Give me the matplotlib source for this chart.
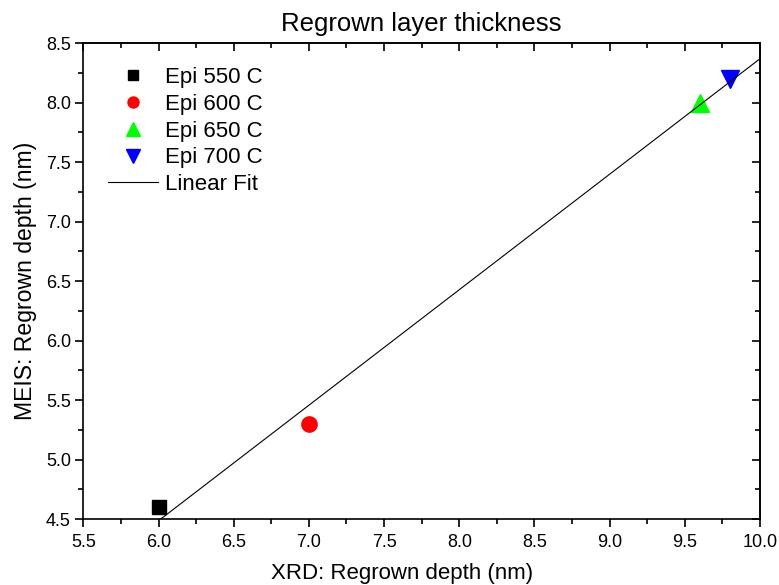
import numpy as np
import matplotlib
matplotlib.use("Agg")
import matplotlib.pyplot as plt
from matplotlib.ticker import MultipleLocator, FormatStrFormatter

plt.rcParams['font.family'] = ['Liberation Sans', 'DejaVu Sans']

# XRD vs MEIS regrown depth (nm) for each epitaxy temperature
labels = ["Epi 550 C", "Epi 600 C", "Epi 650 C", "Epi 700 C"]
xrd_depth = [6.0, 7.0, 9.6, 9.8]
meis_depth = [4.6, 5.3, 8.0, 8.2]
colors = ["#000000", "#ff0000", "#00ff00", "#0000ff"]
markers = ["s", "o", "^", "v"]
sizes = [9.5, 11, 13.5, 13.5]

fig = plt.figure(figsize=(7.79, 5.85), dpi=100)
ax = fig.add_axes([0.107, 0.1128, 0.8686, 0.8132])

for x, y, lab, c, m, s in zip(xrd_depth, meis_depth, labels, colors, markers, sizes):
    ax.plot([x], [y], linestyle="none", marker=m, color=c, markersize=s, label=lab)

# Least-squares linear fit through the four points
slope, intercept = np.polyfit(xrd_depth, meis_depth, 1)
fit_x = np.array([min(xrd_depth), 10.0])
ax.plot(fit_x, slope * fit_x + intercept, color="black", linewidth=0.8, label="Linear Fit")

ax.set_xlim(5.5, 10.0)
ax.set_ylim(4.5, 8.5)
for axis in (ax.xaxis, ax.yaxis):
    axis.set_major_locator(MultipleLocator(0.5))
    axis.set_minor_locator(MultipleLocator(0.25))
    axis.set_major_formatter(FormatStrFormatter('%.1f'))

ax.tick_params(which="both", direction="out", top=False, right=False, labelsize=13, width=1.2)
ax.tick_params(which="major", length=6)
ax.tick_params(which="minor", length=3.5)
ax.tick_params(axis="x", pad=5)
ax.tick_params(axis="y", pad=3)
# mirrored inward ticks on the top and right edges
secx = ax.secondary_xaxis("top")
secy = ax.secondary_yaxis("right")
for sec, axis in ((secx, secx.xaxis), (secy, secy.yaxis)):
    axis.set_major_locator(MultipleLocator(0.5))
    axis.set_minor_locator(MultipleLocator(0.25))
    sec.tick_params(which="both", direction="in", labeltop=False, labelright=False, width=1.2)
    sec.tick_params(which="major", length=6)
    sec.tick_params(which="minor", length=3.5)
    for sp in sec.spines.values():
        sp.set_linewidth(1.2)
for sp in ax.spines.values():
    sp.set_linewidth(1.2)

ax.set_xlabel("XRD: Regrown depth (nm)", fontsize=16)
ax.xaxis.set_label_coords(0.471, -0.092)
ax.set_ylabel("MEIS: Regrown depth (nm)", fontsize=16.6, labelpad=6)
ax.set_title("Regrown layer thickness", fontsize=18.5, pad=9)

ax.legend(loc="upper left", frameon=False, fontsize=16, handlelength=2.25,
          handletextpad=0.3, labelspacing=0.26, borderaxespad=0, borderpad=0,
          markerscale=0.72, bbox_to_anchor=(0.0365, 0.95))

fig.savefig("out.png", dpi=100)
